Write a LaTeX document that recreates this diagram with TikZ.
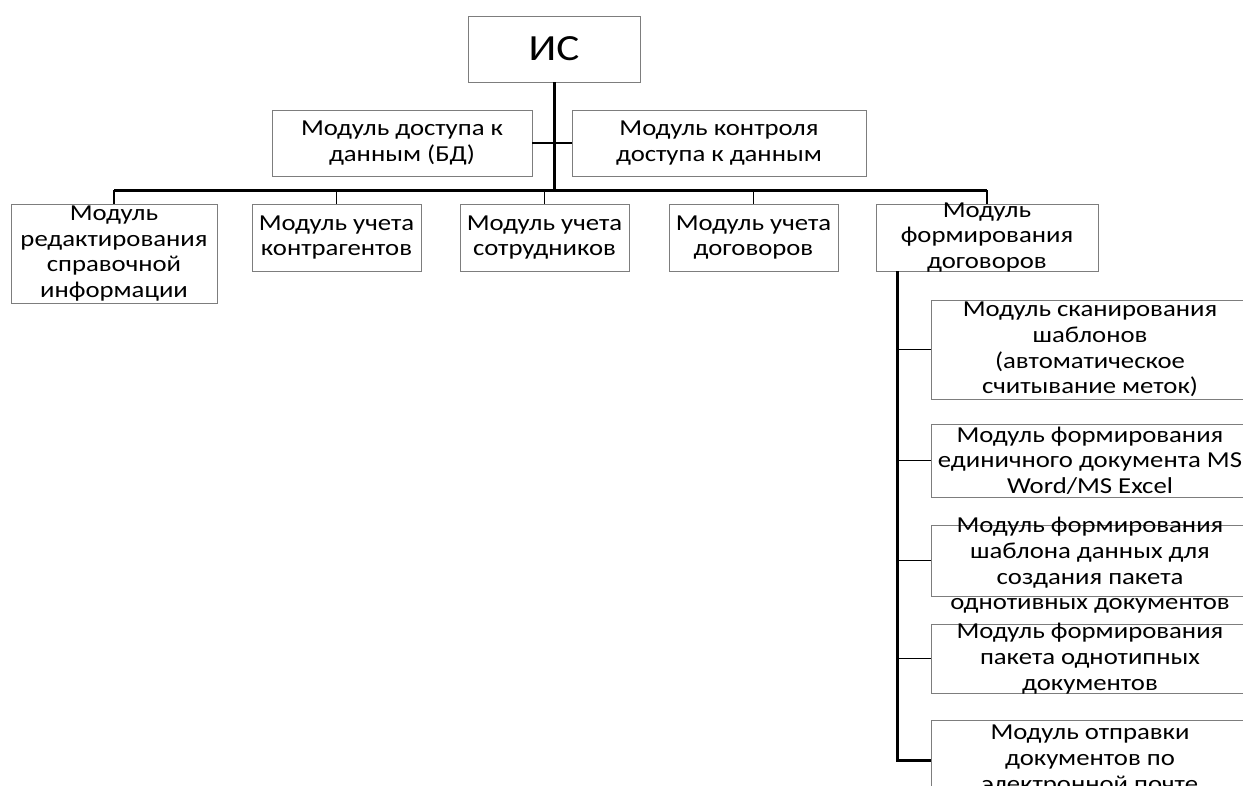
\documentclass[tikz,border=0pt]{standalone}
\usepackage{fontspec}
\setmainfont{Carlito}[FakeStretch=1.17]
\usepackage{xcolor}
\usetikzlibrary{positioning, calc}
\definecolor{grisboite}{RGB}{125, 125, 125}

\begin{document}
\begin{tikzpicture}[
    x=0.02cm, y=-0.02cm,
    texte/.style={align=center, inner sep=0pt, font=\fontsize{13}{14.6}\selectfont},
    boite/.style={rectangle, draw=grisboite, line width=0.5pt, inner sep=0pt},
    sousboite/.style={boite, minimum width=6.36cm},
    tronc/.style={line width=1.7pt},
    lien/.style={line width=1.1pt}]
    \useasboundingbox (0,0) rectangle (1243,785);
    \clip (0,0) rectangle (1243,785);
    % racine et modules d'accès
    \node[boite, minimum width=3.44cm, minimum height=1.32cm,
          label={[texte, font=\fontsize{21}{24}\selectfont]center:ИС}] (is) at (554,49) {};
    \node[boite, minimum width=5.2cm, minimum height=1.32cm,
          label={[texte]center:{Модуль доступа к\\данным (БД)}}] (bd) at (402,143) {};
    \node[boite, minimum width=5.88cm, minimum height=1.32cm,
          label={[texte]center:{Модуль контроля\\доступа к данным}}] (kd) at (719,143) {};
    \coordinate (bus) at (554,190);
    \draw[tronc] (is.south) -- (bus);
    \draw[lien] (bd.east) -- (kd.west);
    % rangée des modules
    \node[boite, minimum width=4.12cm, minimum height=1.98cm,
          label={[texte]center:{Модуль\\редактирования\\справочной\\информации}}] (red) at (114,253.5) {};
    \node[boite, minimum width=3.38cm, minimum height=1.34cm,
          label={[texte]center:{Модуль учета\\контрагентов}}] (kontr) at (336.5,237.5) {};
    \node[boite, minimum width=3.38cm, minimum height=1.34cm,
          label={[texte]center:{Модуль учета\\сотрудников}}] (sotr) at (544.5,237.5) {};
    \node[boite, minimum width=3.38cm, minimum height=1.34cm,
          label={[texte]center:{Модуль учета\\договоров}}] (dog) at (753.5,237.5) {};
    \node[boite, minimum width=4.44cm, minimum height=1.34cm,
          label={[texte]center:{Модуль\\формирования\\договоров}}] (form) at (987,237.5) {};
    \draw[tronc] (red.north |- bus) -- (form.north |- bus);
    \foreach \m in {red, kontr, sotr, dog, form}
      \draw[lien] (\m.north |- bus) -- (\m.north);
    % sous-modules de formation
    \node[sousboite, minimum height=1.98cm,
          label={[texte]center:{Модуль сканирования\\шаблонов\\(автоматическое\\считывание меток)}}] (s1) at (1090,349.5) {};
    \node[sousboite, minimum height=1.46cm,
          label={[texte]center:{Модуль формирования\\единичного документа MS\\Word/MS Excel}}] (s2) at (1090,460.5) {};
    \node[sousboite, minimum height=1.42cm,
          label={[texte, yshift=-0.1cm]center:{Модуль формирования\\шаблона данных для\\создания пакета\\однотивных документов}}] (s3) at (1090,560.5) {};
    \node[sousboite, minimum height=1.38cm,
          label={[texte]center:{Модуль формирования\\пакета однотипных\\документов}}] (s4) at (1090,658.5) {};
    \node[sousboite, minimum height=1.6cm,
          label={[texte]center:{Модуль отправки\\документов по\\электронной почте}}] (s5) at (1090,760) {};
    \coordinate (fstem) at ($(form.south west)+(22,0)$);
    \draw[tronc] (fstem) |- (s5.west);
    \foreach \s in {s1, s2, s3, s4}
      \draw[lien] (fstem |- \s.west) -- (\s.west);
\end{tikzpicture}
\end{document}
